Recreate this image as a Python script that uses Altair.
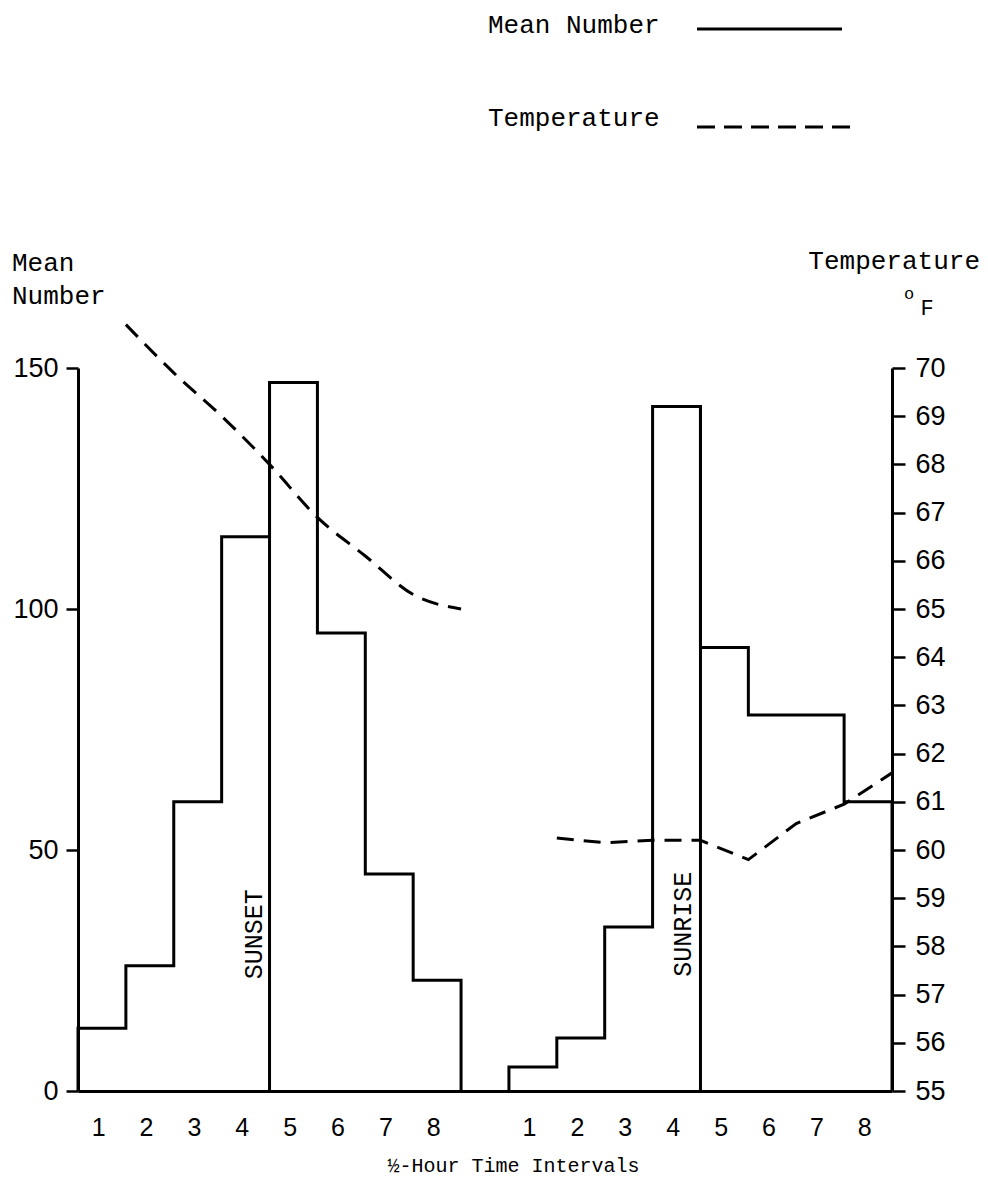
import altair as alt
import pandas as pd

# ---- data ----
interval_labels = [1, 2, 3, 4, 5, 6, 7, 8]
evening_counts = [13, 26, 60, 115, 147, 95, 45, 23]
morning_counts = [5, 11, 34, 142, 92, 78, 78, 60]
evening_temp = [70.9, 69.9, 69.0, 68.0, 66.9, 66.1, 65.3, 65.0]
morning_temp = [60.25, 60.15, 60.2, 60.2, 59.8, 60.55, 60.95, 61.6]
count_ticks = [0, 50, 100, 150]
temp_ticks = list(range(55, 71))
markers = ["SUNSET", "SUNRISE"]

MONO = "Liberation Mono"
NUM = "Liberation Sans"
BLACK = "black"

W, H = 814, 723
GAP = 1  # one empty interval between the evening and morning series
MOR0 = 8 + GAP

# step outline of the histogram (as drawn in the reference: outline only)
step_rows = []
for name, start, counts in (("evening", 0, evening_counts), ("morning", MOR0, morning_counts)):
    k = 0
    step_rows.append({"series": name, "i": k, "x": start, "count": 0}); k += 1
    for j, c in enumerate(counts):
        step_rows.append({"series": name, "i": k, "x": start + j, "count": c}); k += 1
    step_rows.append({"series": name, "i": k, "x": start + len(counts), "count": 0})
step_df = pd.DataFrame(step_rows)

# sunset / sunrise marker lines between interval 4 and 5
mark_df = pd.DataFrame({
    "x": [4, MOR0 + 4],
    "base": [0, 0],
    "top": [max(evening_counts[3], evening_counts[4]), max(morning_counts[3], morning_counts[4])],
    "tx": [3.68, MOR0 + 3.64],
    "ty": [32.5, 34.6],
    "label": markers,
})

eve_df = pd.DataFrame({"x": [i + 1 for i in range(8)], "temp": evening_temp})
mor_df = pd.DataFrame({"x": [MOR0 + i + 1 for i in range(8)], "temp": morning_temp})

tick_vals = [i + 0.42 for i in range(8)] + [MOR0 + i + 0.42 for i in range(8)]
label_expr = ("datum.value < 8.75 ? '' + (floor(datum.value) + 1) "
              ": '' + (floor(datum.value) - 8)")

x_scale = alt.Scale(domain=[0, 17], nice=False, zero=False)
x_axis = alt.Axis(
    values=tick_vals,
    labelExpr=label_expr,
    ticks=False, grid=False,
    domainColor=BLACK, domainWidth=3,
    labelFont=NUM, labelFontSize=25, labelColor=BLACK, labelPadding=24,
    title="½-Hour Time Intervals", titleFont=MONO, titleFontSize=20,
    titleFontWeight="normal", titleColor=BLACK,
    titleX=435, titleY=74, titleAlign="center", titleBaseline="middle",
    titleAnchor="start",
)
count_scale = alt.Scale(domain=[0, 150], nice=False, zero=True)
count_axis = alt.Axis(orient="left", values=count_ticks, tickSize=12, tickWidth=2.5,
                      tickColor=BLACK, domainColor=BLACK, domainWidth=3,
                      labelFont=NUM, labelFontSize=27, labelColor=BLACK,
                      labelPadding=8, grid=False, title=None)

hist = alt.Chart(step_df).mark_line(
    color=BLACK, strokeWidth=3, interpolate="step-after", strokeJoin="miter"
).encode(
    x=alt.X("x:Q", scale=x_scale, axis=x_axis),
    y=alt.Y("count:Q", scale=count_scale, axis=count_axis),
    detail="series:N",
    order="i:Q",
)

marker_rules = alt.Chart(mark_df).mark_rule(color=BLACK, strokeWidth=3).encode(
    x=alt.X("x:Q", scale=x_scale), y="base:Q", y2="top:Q")

ann = alt.Chart(mark_df).mark_text(
    angle=270, font=MONO, fontSize=25, color=BLACK, align="center", baseline="middle"
).encode(x=alt.X("tx:Q", scale=x_scale), y="ty:Q", text="label:N")

one = pd.DataFrame({"k": [0]})


def txt(label, px, py, size=26, align="left"):
    return alt.Chart(one).mark_text(
        font=MONO, fontSize=size, color=BLACK, align=align, baseline="middle"
    ).encode(x=alt.value(px), y=alt.value(py), text=alt.value(label))


leg_solid = alt.Chart(one).mark_rule(color=BLACK, strokeWidth=3).encode(
    x=alt.value(619), x2=alt.value(764), y=alt.value(-339))
leg_dash = alt.Chart(one).mark_rule(color=BLACK, strokeWidth=3, strokeDash=[18, 9]).encode(
    x=alt.value(619), x2=alt.value(772), y=alt.value(-241))

left = alt.layer(
    hist, marker_rules, ann,
    txt("Mean Number", 410, -343), leg_solid,
    txt("Temperature", 410, -250), leg_dash,
    txt("Mean", -66, -105), txt("Number", -66, -72),
    txt("Temperature", 902, -107, align="right"),
    txt("o", 831, -74, size=17, align="center"),
    txt("F", 849, -60, size=22, align="center"),
)

temp_scale = alt.Scale(domain=[55, 70], nice=False, zero=False)
temp_axis = alt.Axis(orient="right", values=temp_ticks, tickSize=13, tickWidth=2.5,
                     tickColor=BLACK, domainColor=BLACK, domainWidth=3,
                     labelFont=NUM, labelFontSize=27, labelColor=BLACK,
                     labelPadding=10, grid=False, title=None)

eve = alt.Chart(eve_df).mark_line(
    color=BLACK, strokeWidth=3, strokeDash=[17, 10], interpolate="monotone"
).encode(x=alt.X("x:Q", scale=x_scale, axis=x_axis),
         y=alt.Y("temp:Q", scale=temp_scale, axis=temp_axis))
mor = alt.Chart(mor_df).mark_line(
    color=BLACK, strokeWidth=3, strokeDash=[17, 10], interpolate="linear"
).encode(x=alt.X("x:Q", scale=x_scale, axis=x_axis),
         y=alt.Y("temp:Q", scale=temp_scale, axis=temp_axis))

right = alt.layer(eve, mor)

chart = alt.layer(left, right).resolve_scale(y="independent").properties(
    width=W, height=H,
    autosize=alt.AutoSizeParams(type="none"),
    padding={"left": 78, "top": 368, "right": 96, "bottom": 100},
    background="white",
).configure_view(strokeWidth=0)

chart.save("out.html", embed_options={"renderer": "svg", "actions": False})
